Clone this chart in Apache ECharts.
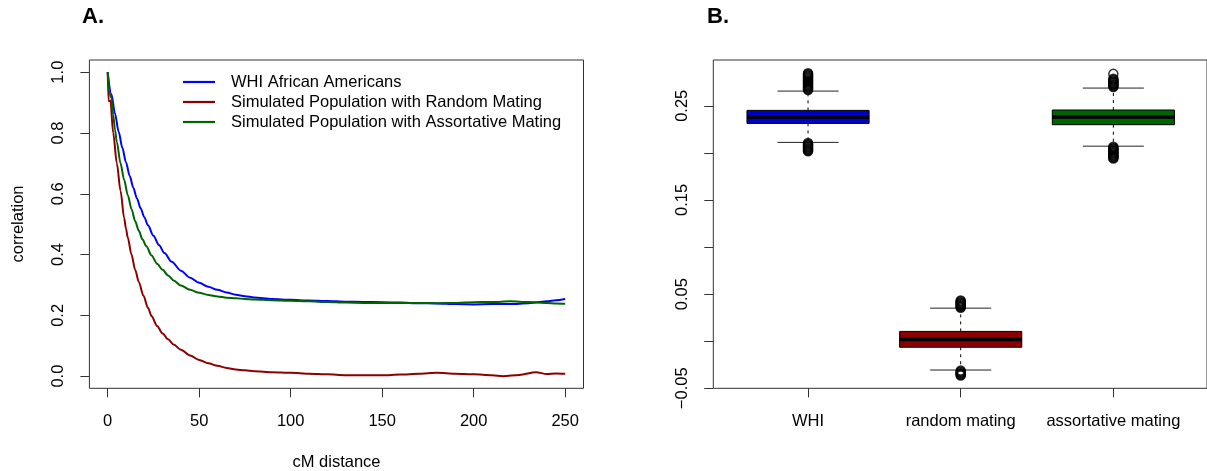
<!DOCTYPE html>
<html><head><meta charset="utf-8">
<script src="https://cdn.jsdelivr.net/npm/echarts@6/dist/echarts.min.js"></script>
<style>html,body{margin:0;padding:0;background:#fff}#c{width:1207px;height:471px}</style>
</head><body><div id="c"></div>
<script>
// ---------- Panel A data ----------
const seriesNames = ['WHI African Americans', 'Simulated Population with Random Mating', 'Simulated Population with Assortative Mating'];
const blueX = [0,2,4,6,8,10,12,14,16,18,20,22,25,28,31,35,40,45,50,55,60,65,70,75,80,90,100,110,120,130,140,150,160,170,180,190,200,210,220,230,235,240,245,250];
const blueY = [1.0,0.928,0.863,0.804,0.751,0.703,0.659,0.620,0.584,0.552,0.523,0.496,0.462,0.431,0.405,0.376,0.347,0.324,0.307,0.294,0.284,0.275,0.268,0.263,0.259,0.254,0.251,0.249,0.247,0.245,0.244,0.243,0.242,0.240,0.239,0.237,0.236,0.237,0.237,0.240,0.243,0.246,0.250,0.254];
const redX = [0,0.5,1.5,3,5,7,9,10,11,13,15,17,19.5,22,24,27,30,33,36,40,45,50,55,60,65,70,75,80,90,100,110,120,130,140,150,160,170,180,190,200,210,216,225,234,240,245,250];
const redY = [1.0,0.905,0.905,0.80,0.70,0.61,0.52,0.485,0.455,0.40,0.35,0.31,0.265,0.225,0.197,0.165,0.14,0.121,0.104,0.087,0.068,0.053,0.042,0.034,0.027,0.022,0.019,0.016,0.013,0.011,0.008,0.006,0.003,0.003,0.003,0.005,0.008,0.011,0.008,0.006,0.003,0.0,0.004,0.013,0.007,0.009,0.008];
const greenX = [0,1,2,3,4,5,7,9,11,13,15,17,19,21,24,27,30,33,36,40,45,50,55,60,65,70,75,80,90,100,110,120,130,140,150,160,170,180,190,200,210,220,230,240,245,250];
const greenY = [1.0,0.93,0.915,0.86,0.81,0.77,0.70,0.645,0.595,0.55,0.51,0.478,0.45,0.428,0.397,0.37,0.35,0.331,0.315,0.298,0.284,0.274,0.267,0.262,0.258,0.256,0.254,0.252,0.250,0.248,0.246,0.244,0.242,0.241,0.241,0.241,0.241,0.240,0.241,0.243,0.244,0.246,0.244,0.241,0.239,0.238];
const xTicksA = [0,50,100,150,200,250];
const yTicksA = [0,0.2,0.4,0.6,0.8,1.0];

// ---------- Panel B data ----------
const categories = ['WHI', 'random mating', 'assortative mating'];
const boxLow    = [0.2111, -0.0306, 0.2071];
const boxQ1     = [0.2313, -0.0064, 0.2299];
const boxMedian = [0.2380,  0.0018, 0.2380];
const boxQ3     = [0.2451,  0.0104, 0.2455];
const boxHigh   = [0.2656,  0.0351, 0.2688];
const outWHI = [0.2667,0.2676,0.2686,0.2695,0.2705,0.2714,0.2724,0.2733,0.2743,0.2752,0.2762,0.2771,0.2781,0.2790,0.2800,0.2809,0.2819,0.2828,0.2838,0.2845,
                0.2104,0.2095,0.2086,0.2077,0.2068,0.2059,0.2050,0.2041,0.2032,0.2024,0.2018];
const outRandom = [0.0433,0.0424,0.0415,0.0406,0.0397,0.0388,0.0379,0.0370,0.0362,0.0355,
                   -0.0312,-0.0321,-0.0330,-0.0339,-0.0348,-0.0357,-0.0365];
const outAssort = [0.2839,0.2786,0.2777,0.2768,0.2759,0.2750,0.2741,0.2732,0.2723,0.2714,0.2706,0.2699,
                   0.2064,0.2055,0.2046,0.2037,0.2028,0.2019,0.2010,0.2001,0.1992,0.1983,0.1974,0.1965,0.1956,0.1948,0.1940];
const yTicksB = [-0.05,0,0.05,0.10,0.15,0.20,0.25];
const yLabelsB = [-0.05,0.05,0.15,0.25];

// ---------- styling ----------
const FONT = '"Liberation Sans", Arial, Helvetica, sans-serif';
const FS = 16.5;
const lineColors = ['#0000FF', '#8B0000', '#006400'];
const boxColors = ['#0000CD', '#8B0000', '#006400'];
const frameColor = '#333';

const zip = (xs, ys) => xs.map((x, i) => [x, ys[i]]);
const outData = [];
[outWHI, outRandom, outAssort].forEach((arr, ci) => arr.forEach(v => outData.push([ci, v])));

const chart = echarts.init(document.getElementById('c'), null, {renderer: 'canvas'});
const tickStyle = {color: frameColor, width: 1};
const noLine = {show: false, onZero: false};
chart.setOption({
  animation: false,
  backgroundColor: '#fff',
  textStyle: {fontFamily: FONT},
  grid: [
    {left: 89.4, top: 60, width: 494.1, height: 328.3, show: true, borderColor: frameColor, borderWidth: 1, backgroundColor: 'transparent'},
    {left: 731.7, top: 60, width: 458, height: 328.3},
    {left: 713.3, top: 60, width: 495, height: 328.3, show: true, borderColor: frameColor, borderWidth: 1, backgroundColor: 'transparent'}
  ],
  xAxis: [
    {gridIndex: 0, type: 'value', min: -10, max: 260,
     axisLine: noLine, splitLine: {show: false},
     axisTick: {show: true, length: 9, lineStyle: tickStyle, customValues: xTicksA},
     axisLabel: {customValues: xTicksA, fontSize: FS, color: '#000', margin: 25, fontFamily: FONT}},
    {gridIndex: 1, type: 'category', data: categories, boundaryGap: true,
     axisLine: noLine, splitLine: {show: false},
     axisTick: {show: true, alignWithLabel: true, length: 9, lineStyle: tickStyle},
     axisLabel: {fontSize: FS, color: '#000', margin: 25, fontFamily: FONT, interval: 0}},
    {gridIndex: 2, type: 'value', min: 0, max: 1, show: false}
  ],
  yAxis: [
    {gridIndex: 0, type: 'value', min: -0.04, max: 1.04,
     axisLine: noLine, splitLine: {show: false},
     axisTick: {show: true, length: 9, lineStyle: tickStyle, customValues: yTicksA},
     axisLabel: {customValues: yTicksA, rotate: 90, fontSize: FS, color: '#000', margin: 22, fontFamily: FONT,
                 formatter: v => v.toFixed(1)}},
    {gridIndex: 1, type: 'value', min: -0.05, max: 0.2986, show: false},
    {gridIndex: 2, type: 'value', min: -0.05, max: 0.2986,
     axisLine: noLine, splitLine: {show: false},
     axisTick: {show: true, length: 9, lineStyle: tickStyle, customValues: yTicksB},
     axisLabel: {customValues: yLabelsB, rotate: 90, fontSize: FS, color: '#000', margin: 22, fontFamily: FONT,
                 formatter: v => v.toFixed(2).replace('-', '\u2212')}}
  ],
  legend: {
    data: seriesNames, orient: 'vertical', left: 178, top: 67,
    itemWidth: 32, itemHeight: 14, itemGap: 0,
    icon: 'path://M0,0 L32,0 L32,2.2 L0,2.2 Z',
    textStyle: {fontSize: FS, color: '#000', lineHeight: 20, padding: [0, 0, 0, 11], fontFamily: FONT},
    selectedMode: false
  },
  graphic: [
    {type: 'text', x: 82, y: 6, style: {text: 'A.', font: 'bold 22px ' + FONT, fill: '#000'}},
    {type: 'text', x: 707, y: 6, style: {text: 'B.', font: 'bold 22px ' + FONT, fill: '#000'}},
    {type: 'text', x: 18, y: 224, rotation: Math.PI / 2,
     style: {text: 'correlation', font: FS + 'px ' + FONT, fill: '#000', textAlign: 'center', textVerticalAlign: 'middle'}},
    {type: 'text', x: 336.5, y: 462,
     style: {text: 'cM distance', font: FS + 'px ' + FONT, fill: '#000', textAlign: 'center', textVerticalAlign: 'middle'}}
  ],
  series: [
    {name: seriesNames[0], type: 'line', xAxisIndex: 0, yAxisIndex: 0, data: zip(blueX, blueY), symbol: 'none',
     smooth: 0.3, smoothMonotone: 'x', lineStyle: {color: lineColors[0], width: 2}, itemStyle: {color: lineColors[0]}},
    {name: seriesNames[1], type: 'line', xAxisIndex: 0, yAxisIndex: 0, data: zip(redX, redY), symbol: 'none',
     smooth: 0.3, smoothMonotone: 'x', lineStyle: {color: lineColors[1], width: 2}, itemStyle: {color: lineColors[1]}},
    {name: seriesNames[2], type: 'line', xAxisIndex: 0, yAxisIndex: 0, data: zip(greenX, greenY), symbol: 'none',
     smooth: 0.3, smoothMonotone: 'x', lineStyle: {color: lineColors[2], width: 2}, itemStyle: {color: lineColors[2]}},
    {type: 'custom', xAxisIndex: 1, yAxisIndex: 1,
     data: categories.map((c, i) => [i, boxLow[i], boxQ1[i], boxMedian[i], boxQ3[i], boxHigh[i]]),
     encode: {x: 0, y: [1, 2, 3, 4, 5]},
     renderItem: function (params, api) {
       const i = api.value(0);
       const lo = api.coord([i, api.value(1)]);
       const q1 = api.coord([i, api.value(2)]);
       const md = api.coord([i, api.value(3)]);
       const q3 = api.coord([i, api.value(4)]);
       const hi = api.coord([i, api.value(5)]);
       const band = api.size([1, 0])[0];
       const hw = band * 0.4, cw = band * 0.2, cx = lo[0];
       const dash = {stroke: '#000', lineWidth: 1, lineDash: [3, 4]};
       const cap = {stroke: '#222', lineWidth: 1};
       return {type: 'group', children: [
         {type: 'line', shape: {x1: cx, y1: q3[1], x2: cx, y2: hi[1]}, style: dash},
         {type: 'line', shape: {x1: cx, y1: q1[1], x2: cx, y2: lo[1]}, style: dash},
         {type: 'line', shape: {x1: cx - cw, y1: hi[1], x2: cx + cw, y2: hi[1]}, style: cap},
         {type: 'line', shape: {x1: cx - cw, y1: lo[1], x2: cx + cw, y2: lo[1]}, style: cap},
         {type: 'rect', shape: {x: cx - hw, y: q3[1], width: 2 * hw, height: q1[1] - q3[1]},
          style: {fill: boxColors[params.dataIndex], stroke: '#000', lineWidth: 1}},
         {type: 'line', shape: {x1: cx - hw, y1: md[1], x2: cx + hw, y2: md[1]}, style: {stroke: '#000', lineWidth: 3.5}}
       ]};
     }},
    {type: 'scatter', xAxisIndex: 1, yAxisIndex: 1, data: outData, symbol: 'circle', symbolSize: 9,
     itemStyle: {color: 'rgba(0,0,0,0)', borderColor: '#000', borderWidth: 1.5}, z: 5}
  ]
});
</script></body></html>
